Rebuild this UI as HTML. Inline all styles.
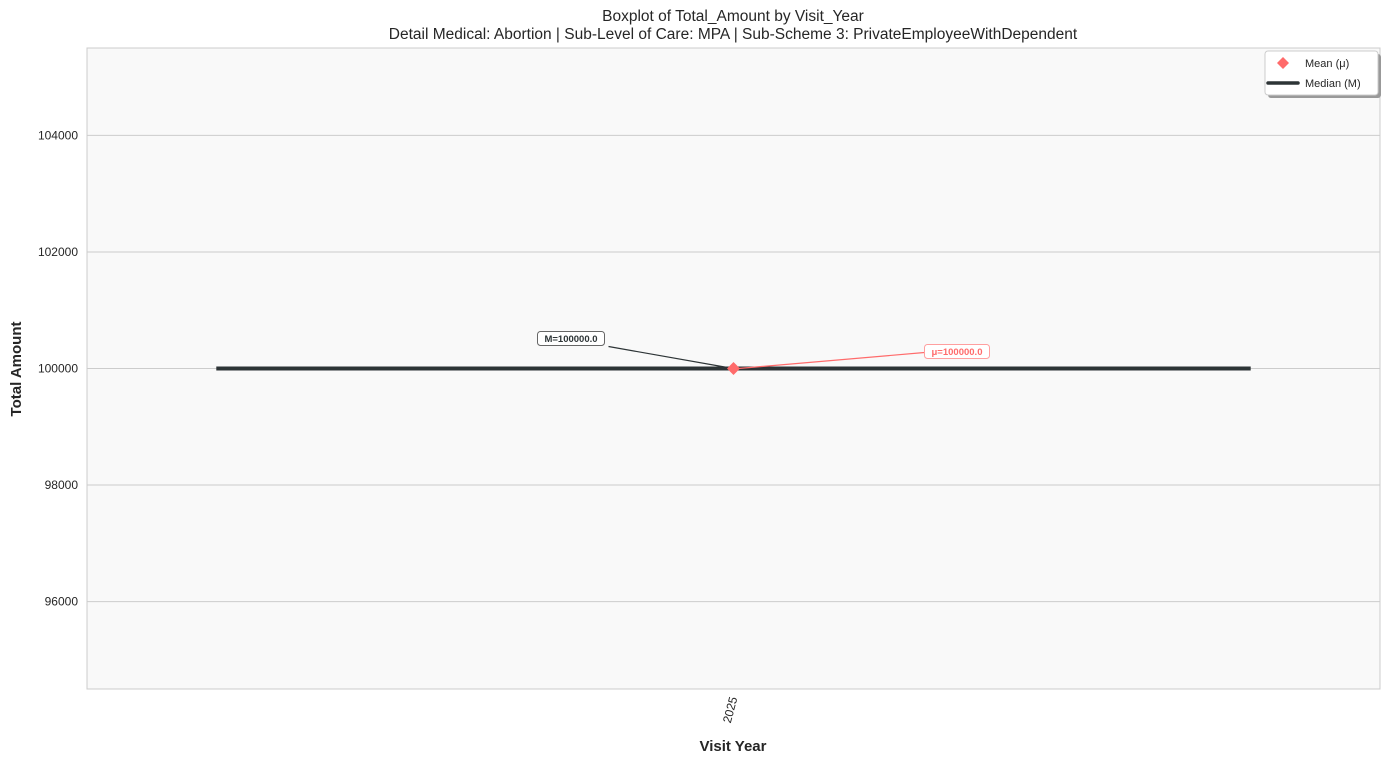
<!DOCTYPE html>
<html><head><meta charset="utf-8"><style>
body{margin:0;background:#fff;font-family:"Liberation Sans","DejaVu Sans",sans-serif;}
svg text{font-family:"Liberation Sans","DejaVu Sans",sans-serif;}
</style></head><body>
<svg id="chart" width="1389" height="763" xmlns="http://www.w3.org/2000/svg">
<rect x="0" y="0" width="1389" height="763" fill="#fff"/>
<rect x="87" y="48" width="1293" height="641" fill="#f9f9f9" stroke="#cccccc" stroke-width="1"/>
<g id="grid"></g>
<g id="yticks"></g>
<g id="marks"></g>
<text x="733" y="21" text-anchor="middle" font-size="15.5" fill="#262626">Boxplot of Total_Amount by Visit_Year</text>
<text x="733" y="39" text-anchor="middle" font-size="15.5" fill="#262626">Detail Medical: Abortion | Sub-Level of Care: MPA | Sub-Scheme 3: PrivateEmployeeWithDependent</text>
<text x="733" y="751" text-anchor="middle" font-size="15" font-weight="bold" fill="#262626">Visit Year</text>
<text transform="translate(21,369) rotate(-90)" text-anchor="middle" font-size="15" font-weight="bold" fill="#262626">Total Amount</text>
<g>
<rect x="1268" y="54" width="113" height="44" rx="3" fill="#999" />
<rect x="1265" y="51" width="113" height="44" rx="3" fill="#fff" stroke="#ccc"/>
<path d="M1283 57 L1289 63 L1283 69 L1277 63 Z" fill="#ff6b6b"/>
<text x="1305" y="67" font-size="11" fill="#262626">Mean (μ)</text>
<line x1="1268" y1="83" x2="1298" y2="83" stroke="#2d3436" stroke-width="3.5" stroke-linecap="round"/>
<text x="1305" y="87" font-size="11" fill="#262626">Median (M)</text>
</g>
</svg>
<script>
const categories=["2025"];
const medians=[100000];
const means=[100000];
const yTicks=[96000,98000,100000,102000,104000];
const yMin=94500,yMax=105500;
const plotTop=48,plotBottom=689,plotLeft=87,plotRight=1380;
const ns="http://www.w3.org/2000/svg";
function yS(v){return plotBottom-(v-yMin)/(yMax-yMin)*(plotBottom-plotTop);}
function xc(i){const w=(plotRight-plotLeft)/categories.length;return plotLeft+w*(i+0.5);}
const bw=(plotRight-plotLeft)/categories.length*0.8;
function mk(tag,attrs,parent){const e=document.createElementNS(ns,tag);for(const k in attrs)e.setAttribute(k,attrs[k]);parent.appendChild(e);return e;}
const grid=document.getElementById('grid'),yt=document.getElementById('yticks'),marks=document.getElementById('marks');
yTicks.forEach(t=>{
 const l=mk('line',{x1:plotLeft,x2:plotRight,y1:yS(t),y2:yS(t),stroke:'#cccccc','stroke-width':1},grid);
 
 
 const tx=mk('text',{x:78,y:yS(t)+4,'text-anchor':'end','font-size':12,fill:'#262626'},yt);
 tx.textContent=t;
 
 
});
categories.forEach((c,i)=>{
 const cx=xc(i),my=yS(medians[i]),uy=yS(means[i]);
 const ml=mk('line',{x1:cx-bw/2,x2:cx+bw/2,y1:my,y2:my,stroke:'#2d3436','stroke-width':4},marks);
 
 
 const a1=mk('line',{x1:cx-125,y1:my-22,x2:cx-6,y2:my-1,stroke:'#2d3436','stroke-width':1.2},marks);
 
 
 const b1=mk('rect',{x:cx-196,y:my-37,width:67,height:14,rx:3,fill:'#fff',stroke:'#666','stroke-width':1},marks);
 
 
 const t1=mk('text',{x:cx-162.5,y:my-26.5,'text-anchor':'middle','font-size':9.5,'font-weight':'bold',fill:'#2d3436'},marks);
 t1.textContent='M='+medians[i].toFixed(1);
 
 
 const a2=mk('line',{x1:cx+191,y1:uy-16,x2:cx+5,y2:uy,stroke:'#ff6b6b','stroke-width':1.2},marks);
 
 
 const b2=mk('rect',{x:cx+191,y:uy-24,width:65,height:14,rx:3,fill:'#fff',stroke:'#ff9f9f','stroke-width':1},marks);
 
 
 const t2=mk('text',{x:cx+223.5,y:uy-13.5,'text-anchor':'middle','font-size':9.5,'font-weight':'bold',fill:'#ff6b6b'},marks);
 t2.textContent='μ='+means[i].toFixed(1);
 
 
 const d=mk('path',{d:`M${cx} ${uy-6.5} L${cx+6.5} ${uy} L${cx} ${uy+6.5} L${cx-6.5} ${uy} Z`,fill:'#ff6b6b'},marks);
 
 
 const xl=mk('text',{transform:`translate(${cx+4},${698}) rotate(-75)`,'text-anchor':'end','font-size':12,fill:'#262626'},marks);
 xl.textContent=c;
 
 
});
</script>
</body></html>
